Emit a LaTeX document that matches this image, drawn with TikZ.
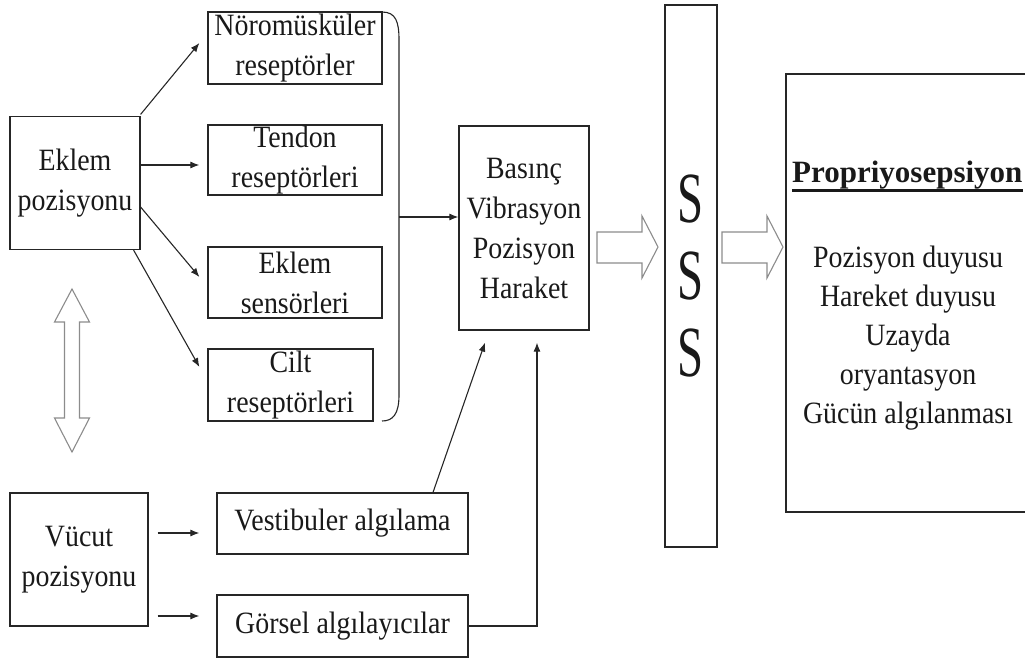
\documentclass[tikz,border=0pt]{standalone}
\usepackage{fontspec}
\setmainfont{Liberation Serif}[FakeStretch=0.9]
\newfontfamily\titlefont{Liberation Serif}
\newfontfamily\sssfont{Liberation Serif}[FakeStretch=0.65]
\usetikzlibrary{arrows.meta,calc}
\begin{document}
\begin{tikzpicture}[x=1pt,y=-1pt,
  box/.style={draw=black!85,line width=1.2pt,inner sep=0pt,align=center,
    font=\fontsize{31}{40}\selectfont,text=black!90},
  arr/.style={draw=black!85,line width=1.1pt,-{Latex[length=9pt,width=7pt]}},
  line/.style={draw=black!85,line width=1.1pt},
  hollow/.style={draw=black!45,line width=1.1pt,fill=white},
  txt/.style={inner sep=0pt,align=center,font=\fontsize{31}{39}\selectfont,text=black!90}]
\useasboundingbox (0,0) rectangle (1025,659);
\clip (0,0) rectangle (1025,659);
% left column
\node[box,minimum width=130pt,minimum height=133pt] (ep) at (75,183) {Eklem\\pozisyonu};
\node[box,minimum width=138pt,minimum height=133pt] (vp) at (79,559.5) {Vücut\\pozisyonu};
% receptor boxes
\node[box,minimum width=174pt,minimum height=72pt] (nm) at (295,48) {Nöromüsküler\\reseptörler};
\node[box,minimum width=174pt,minimum height=70pt] (td) at (295,160) {Tendon\\reseptörleri};
\node[box,minimum width=174pt,minimum height=71pt] (es) at (295,282.5) {Eklem\\sensörleri};
\node[box,minimum width=165pt,minimum height=72pt] (ci) at (290.5,385) {Cilt\\reseptörleri};
\node[box,minimum width=251pt,minimum height=61pt] (vs) at (342.5,523.5) {Vestibuler algılama};
\node[box,minimum width=251pt,minimum height=62pt] (gs) at (342.5,626) {Görsel algılayıcılar};
% middle
\node[box,minimum width=130pt,minimum height=204pt] (bs) at (524,228) {Basınç\\Vibrasyon\\Pozisyon\\Haraket};
\node[box,minimum width=52pt,minimum height=542pt,font=\fontsize{72}{77}\sssfont] (ss) at (691,276) {S\\S\\S};
% right box
\draw[line,line width=1.2pt] (1030,74) -- (786,74) -- (786,512) -- (1030,512);
\node[inner sep=0pt,anchor=base west,font=\fontsize{31}{36}\titlefont\bfseries,text=black!90] (pt) at (792,182) {Propriyosepsiyon};
\draw[black!90,line width=3pt] ([yshift=-8pt]pt.base west) -- ([yshift=-8pt]pt.base east);
\node[txt] (pl) at (908,338) {Pozisyon duyusu\\Hareket duyusu\\Uzayda\\oryantasyon\\Gücün algılanması};
% bracket
\draw[line] (382,12) .. controls (396,12) and (399,22) .. (399,40) -- (399,395) .. controls (399,414) and (393,421) .. (382,421);
\coordinate (brk) at (399,217);
\draw[arr] (brk) -- (brk -| bs.west);
% arrows from Eklem pozisyonu
\draw[arr] ([yshift=1.5pt]ep.north east) -- ([xshift=-8pt,yshift=5pt]nm.west);
\draw[arr] ([yshift=18pt]ep.east) -- ([xshift=-8pt,yshift=-5pt]td.west);
\draw[arr] ([yshift=-24pt]ep.east) -- ([xshift=-8pt,yshift=5.5pt]es.west);
\draw[arr] ([xshift=-7pt]ep.south east) -- ([xshift=-8pt,yshift=18pt]ci.west);
% arrows from Vücut pozisyonu
\draw[arr] ([xshift=9pt,yshift=26.5pt]vp.east) -- ([xshift=-17pt,yshift=-9.5pt]vs.west);
\draw[arr] ([xshift=9pt,yshift=-56.5pt]vp.east) -- ([xshift=-17pt,yshift=10pt]gs.west);
% to Basinc
\draw[arr] ([xshift=90.5pt]vs.north) -- ([xshift=-39pt,yshift=-12pt]bs.south);
\draw[arr] (gs.east) -| ([xshift=13pt,yshift=-12pt]bs.south);
% hollow arrows
\draw[hollow] (597,232) -- (642,232) -- (642,216) -- (658,247) -- (642,278) -- (642,263) -- (597,263) -- cycle;
\draw[hollow] (722,232) -- (767,232) -- (767,216) -- (783,247) -- (767,278) -- (767,263) -- (722,263) -- cycle;
\draw[hollow] (72,289) -- (89.5,322) -- (79.5,322) -- (79.5,418) -- (89.5,418) -- (72,452) -- (54.5,418) -- (64.5,418) -- (64.5,322) -- (54.5,322) -- cycle;
\end{tikzpicture}
\end{document}
